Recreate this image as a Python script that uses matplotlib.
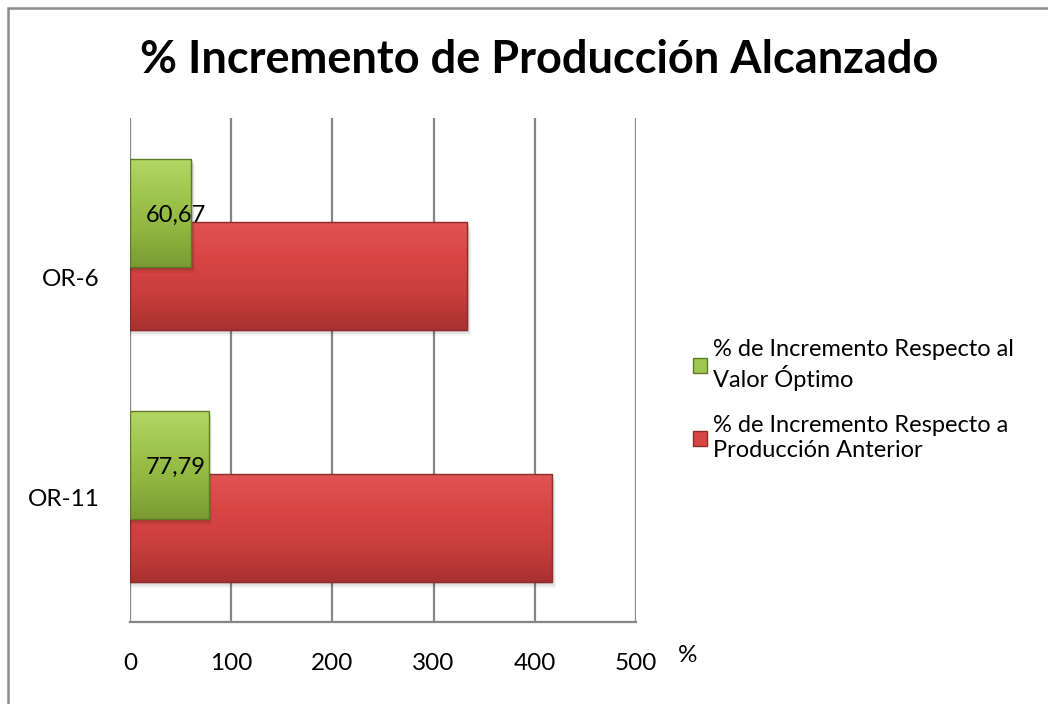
import numpy as np
import matplotlib.pyplot as plt
from matplotlib.patches import Rectangle, Patch
from matplotlib.colors import LinearSegmentedColormap

# data
categories = ['OR-11', 'OR-6']
optimo = [77.79, 60.67]          # % de Incremento Respecto al Valor Óptimo
anterior = [417.2, 333.4]        # % de Incremento Respecto a Producción Anterior
xticks = [0, 100, 200, 300, 400, 500]

plt.rcParams['font.family'] = ['Lato', 'DejaVu Sans']

fig = plt.figure(figsize=(10.48, 7.04), dpi=100)
ax = fig.add_axes([130 / 1048, 1 - 622 / 704, 506 / 1048, 504 / 704])

green_cmap = LinearSegmentedColormap.from_list('g', ['#b4d866', '#9fc64e', '#8fb43f', '#7b9b33'])
red_cmap = LinearSegmentedColormap.from_list('r', ['#e05452', '#d84644', '#c93e3c', '#a83130'])


def bevel_bar(y, w, h, cmap, edge, z):
    # soft drop shadow
    for k, a in enumerate([0.10, 0.07, 0.04]):
        sh = Rectangle((0, y - h / 2 - 0.008 * (k + 1)), w + 1.2 * (k + 1), h,
                       facecolor='black', alpha=a, lw=0, zorder=z - 0.5)
        ax.add_patch(sh)
    rect = Rectangle((0, y - h / 2), w, h, facecolor='none', edgecolor=edge, lw=1.0, zorder=z + 0.2)
    ax.add_patch(rect)
    grad = np.linspace(0, 1, 256).reshape(-1, 1)
    im = ax.imshow(grad, cmap=cmap, aspect='auto', extent=(0, w, y - h / 2, y + h / 2),
                   origin='upper', zorder=z)
    im.set_clip_path(rect)


pos = np.arange(len(categories))
bar_h = 0.43
for i in range(len(categories)):
    bevel_bar(pos[i], anterior[i], bar_h, red_cmap, '#8e2a29', 3)
    bevel_bar(pos[i] + 0.25, optimo[i], bar_h, green_cmap, '#5d7a26', 5)
    ax.text(45.5, pos[i] + 0.24, ('%.2f' % optimo[i]).replace('.', ','),
            ha='center', va='center', fontsize=17, color='black', zorder=7)

ax.set_xlim(0, 500)
ax.set_ylim(-0.373, 1.627)
for x in xticks:
    ax.axvline(x, color='#868686', lw=1.6, zorder=1)
ax.axhline(-0.373, color='#868686', lw=1.6, zorder=1, clip_on=False)

for s in ax.spines.values():
    s.set_visible(False)
ax.set_xticks(xticks)
ax.set_xticklabels([str(v) for v in xticks], fontsize=17.5)
ax.tick_params(axis='x', length=0, pad=22)
ax.set_yticks([0.123, 0.996])
ax.set_yticklabels(categories, fontsize=17.5)
ax.tick_params(axis='y', length=0, pad=22)

fig.text(688 / 1048, 1 - 655 / 704, '%', fontsize=17.5, ha='center', va='center')
fig.text(539 / 1048, 1 - 60 / 704, '% Incremento de Producción Alcanzado',
         fontsize=32.5, fontweight='bold', ha='center', va='center')

handles = [Patch(facecolor='#9fc64e', edgecolor='#5d7a26'),
           Patch(facecolor='#d84644', edgecolor='#8e2a29')]
labels = ['% de Incremento Respecto al\nValor Óptimo',
          '% de Incremento Respecto a\nProducción Anterior']
fig.legend(handles, labels, loc='center left', bbox_to_anchor=(672 / 1048, 1 - 400 / 704),
           frameon=False, fontsize=17, handlelength=0.6, handleheight=0.6,
           handletextpad=0.25, labelspacing=1.05)

# chart frame
fig.patches.append(Rectangle((8 / 1048, -0.1), 1.2, 1 - 8 / 704 + 0.1, transform=fig.transFigure,
                             facecolor='none', edgecolor='#8c8c8c', lw=1.8))

fig.savefig('out.png', dpi=100)
